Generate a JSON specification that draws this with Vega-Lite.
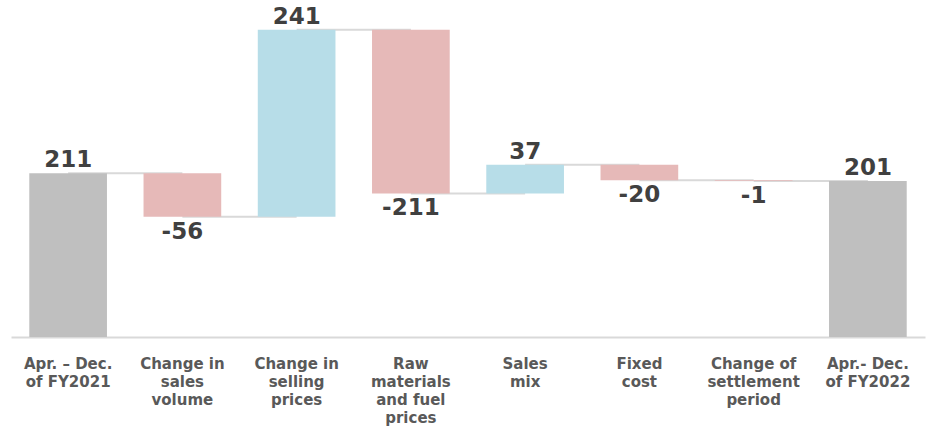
{
  "$schema": "https://vega.github.io/schema/vega-lite/v6.json",
  "autosize": "none",
  "width": 914,
  "height": 326,
  "padding": {"left": 11, "top": 11, "right": 3, "bottom": 92},
  "background": "white",
  "config": {"view": {"stroke": null}, "font": "DejaVu Sans"},
  "datasets": {
    "bars": [
      {"cat": "Apr. – Dec.|of FY2021", "start": 0, "end": 211, "text": "211", "kind": "total"},
      {"cat": "Change in|sales|volume", "start": 211, "end": 155, "text": "-56", "kind": "down"},
      {"cat": "Change in|selling|prices", "start": 155, "end": 396, "text": "241", "kind": "up"},
      {"cat": "Raw|materials|and fuel|prices", "start": 396, "end": 185, "text": "-211", "kind": "down"},
      {"cat": "Sales|mix", "start": 185, "end": 222, "text": "37", "kind": "up"},
      {"cat": "Fixed|cost", "start": 222, "end": 202, "text": "-20", "kind": "down"},
      {"cat": "Change of|settlement|period", "start": 202, "end": 201, "text": "-1", "kind": "down"},
      {"cat": "Apr.- Dec.|of FY2022", "start": 0, "end": 201, "text": "201", "kind": "total"}
    ],
    "links": [
      {"pair": 1, "cat": "Apr. – Dec.|of FY2021", "level": 211},
      {"pair": 1, "cat": "Change in|sales|volume", "level": 211},
      {"pair": 2, "cat": "Change in|sales|volume", "level": 155},
      {"pair": 2, "cat": "Change in|selling|prices", "level": 155},
      {"pair": 3, "cat": "Change in|selling|prices", "level": 396},
      {"pair": 3, "cat": "Raw|materials|and fuel|prices", "level": 396},
      {"pair": 4, "cat": "Raw|materials|and fuel|prices", "level": 185},
      {"pair": 4, "cat": "Sales|mix", "level": 185},
      {"pair": 5, "cat": "Sales|mix", "level": 222},
      {"pair": 5, "cat": "Fixed|cost", "level": 222},
      {"pair": 6, "cat": "Fixed|cost", "level": 202},
      {"pair": 6, "cat": "Change of|settlement|period", "level": 202},
      {"pair": 7, "cat": "Change of|settlement|period", "level": 201},
      {"pair": 7, "cat": "Apr.- Dec.|of FY2022", "level": 201}
    ]
  },
  "layer": [
    {
      "data": {"name": "links"},
      "mark": {"type": "line", "color": "#d9d9d9", "strokeWidth": 2},
      "encoding": {
        "x": {
          "field": "cat", "type": "nominal",
          "scale": {"domain": ["Apr. – Dec.|of FY2021", "Change in|sales|volume", "Change in|selling|prices", "Raw|materials|and fuel|prices", "Sales|mix", "Fixed|cost", "Change of|settlement|period", "Apr.- Dec.|of FY2022"], "paddingInner": 0.32, "paddingOuter": 0.16},
          "axis": {
            "title": null, "labelAngle": 0, "ticks": false,
            "domainColor": "#d9d9d9", "domainWidth": 2,
            "labelExpr": "split(datum.label, '|')",
            "labelFont": "DejaVu Sans", "labelFontWeight": "bold", "labelFontSize": 15,
            "labelColor": "#595959", "labelLineHeight": 18,
            "labelBaseline": "middle", "labelPadding": 26, "labelLimit": 200
          }
        },
        "y": {"field": "level", "type": "quantitative", "scale": {"domain": [0, 420], "nice": false}, "axis": null},
        "detail": {"field": "pair", "type": "nominal"}
      }
    },
    {
      "data": {"name": "bars"},
      "layer": [
        {
          "mark": {"type": "bar"},
          "encoding": {
            "x": {"field": "cat", "type": "nominal"},
            "y": {"field": "start", "type": "quantitative"},
            "y2": {"field": "end"},
            "color": {
              "field": "kind", "type": "nominal", "legend": null,
              "scale": {"domain": ["total", "up", "down"], "range": ["#bfbfbf", "#b7dde8", "#e6b9b8"]}
            }
          }
        },
        {
          "transform": [{"filter": "datum.kind != 'down'"}],
          "mark": {"type": "text", "baseline": "bottom", "dy": -1, "fontSize": 23, "fontWeight": "bold", "color": "#404040", "font": "DejaVu Sans"},
          "encoding": {
            "x": {"field": "cat", "type": "nominal"},
            "y": {"field": "end", "type": "quantitative"},
            "text": {"field": "text"}
          }
        },
        {
          "transform": [{"filter": "datum.kind == 'down'"}],
          "mark": {"type": "text", "baseline": "top", "dy": 4, "fontSize": 23, "fontWeight": "bold", "color": "#404040", "font": "DejaVu Sans"},
          "encoding": {
            "x": {"field": "cat", "type": "nominal"},
            "y": {"field": "end", "type": "quantitative"},
            "text": {"field": "text"}
          }
        }
      ]
    }
  ]
}
